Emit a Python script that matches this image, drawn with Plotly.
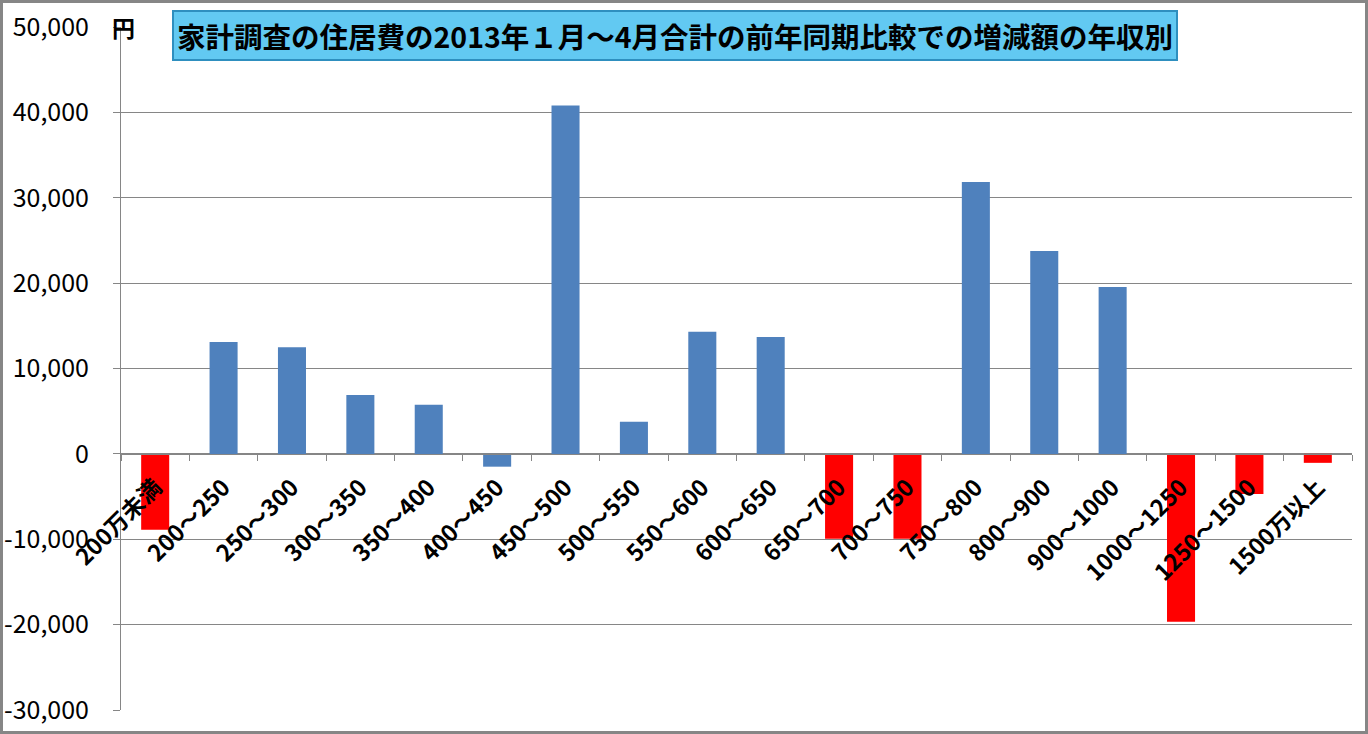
import plotly.graph_objects as go

categories = ["200万未満", "200～250", "250～300", "300～350", "350～400", "400～450",
              "450～500", "500～550", "550～600", "600～650", "650～700", "700～750",
              "750～800", "800～900", "900～1000", "1000～1250", "1250～1500", "1500万以上"]
values = [-8900, 13100, 12500, 6900, 5750, -1500, 40800, 3750, 14300, 13700,
          -9950, -9950, 31850, 23750, 19550, -19650, -4700, -1050]
bar_colors = ["#ff0000", "#4f81bd", "#4f81bd", "#4f81bd", "#4f81bd", "#4f81bd",
              "#4f81bd", "#4f81bd", "#4f81bd", "#4f81bd", "#ff0000", "#ff0000",
              "#4f81bd", "#4f81bd", "#4f81bd", "#ff0000", "#ff0000", "#ff0000"]
y_tickvals = [-30000, -20000, -10000, 0, 10000, 20000, 30000, 40000, 50000]
y_ticktext = ["-30,000", "-20,000", "-10,000", "0", "10,000", "20,000", "30,000", "40,000", "50,000"]
title_text = "家計調査の住居費の2013年１月～4月合計の前年同期比較での増減額の年収別"
unit_text = "円"

W, H = 1368, 734
ML, MR, MT, MB = 121, 16, 27, 24
PW, PH = W - ML - MR, H - MT - MB
YMIN, YMAX = -30000, 50000

fig = go.Figure()
fig.add_trace(go.Bar(x=categories, y=values, marker=dict(color=bar_colors, line=dict(width=0)),
                     showlegend=False))

font_main = "Noto Sans CJK JP"
fig.update_layout(
    template="none",
    width=W, height=H,
    margin=dict(l=ML, r=MR, t=MT, b=MB, autoexpand=False),
    paper_bgcolor="white", plot_bgcolor="white",
    bargap=0.59,
    font=dict(family=font_main, color="black"),
    xaxis=dict(
        type="category", automargin=False,
        anchor="free",
        position=(0 - YMIN) / (YMAX - YMIN),
        showline=True, linecolor="#868686", linewidth=1,
        ticks="outside", tickson="boundaries", ticklen=6, tickcolor="#868686",
        tickangle=-45, ticklabelstandoff=10,
        tickfont=dict(family=font_main, size=23, color="black", weight="bold"),
        showgrid=False, zeroline=False,
    ),
    yaxis=dict(
        range=[YMIN, YMAX], automargin=False,
        tickvals=y_tickvals, ticktext=y_ticktext,
        showline=True, linecolor="#868686", linewidth=1,
        ticks="outside", ticklen=7, tickcolor="#868686",
        showgrid=True, gridcolor="#868686", gridwidth=1,
        zeroline=False, ticklabelstandoff=19,
        tickfont=dict(family=font_main, size=25, color="black"),
    ),
)

# Title box
fig.add_annotation(
    x=(675 - ML) / PW, y=(H - MB - 35) / PH, xref="paper", yref="paper",
    text="<b>" + title_text + "</b>", showarrow=False,
    font=dict(family=font_main, size=28.5, color="black"),
    bgcolor="#62c9f2", bordercolor="#2e8fbf", borderwidth=2, borderpad=3,
    xanchor="center", yanchor="middle",
)
# Unit label
fig.add_annotation(
    x=(123 - ML) / PW, y=YMAX, xref="paper", yref="y",
    text="<b>" + unit_text + "</b>", showarrow=False,
    font=dict(family=font_main, size=23, color="black"),
    xanchor="center", yanchor="middle",
)
# Outer frame
fig.add_shape(type="rect", xref="paper", yref="paper",
              x0=-(ML - 1.5) / PW, x1=1 + (MR - 1.5) / PW,
              y0=-(MB - 1.5) / PH, y1=1 + (MT - 1.5) / PH,
              line=dict(color="#868686", width=3), fillcolor="rgba(0,0,0,0)", layer="above")

fig.write_html("out.html", config={"displayModeBar": False},
               post_script="document.body.style.margin='0';document.body.style.overflow='hidden';")
